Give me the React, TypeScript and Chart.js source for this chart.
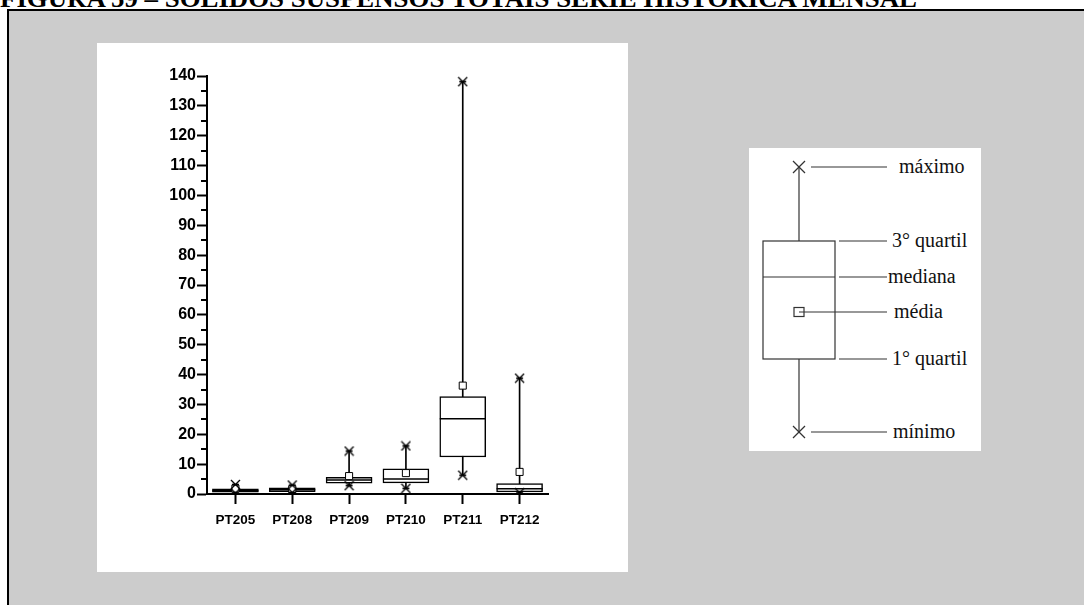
import React, { useEffect, useRef } from 'react';
import { Chart, registerables } from 'chart.js';

Chart.register(...registerables);

const titleText = 'FIGURA 59 – SÓLIDOS SUSPENSOS TOTAIS SÉRIE HISTÓRICA MENSAL';

const categories = ['PT205', 'PT208', 'PT209', 'PT210', 'PT211', 'PT212'];
const minimo = [0.3, 0.5, 2.8, 1.9, 6.3, 0.4];
const quartil1 = [0.6, 0.8, 3.6, 3.7, 12.4, 0.7];
const mediana = [1.1, 1.4, 4.7, 5.0, 25.2, 1.8];
const quartil3 = [1.7, 2.1, 5.6, 8.4, 32.6, 3.5];
const maximo = [3.2, 3.0, 14.4, 16.1, 138.1, 38.8];
const media = [1.8, 1.6, 6.0, 7.0, 36.3, 7.4];

const yMin = 0;
const yMax = 140;
const yStep = 10;
const minorTickValues = [5, 15, 25, 35, 45, 55, 65, 75, 85, 95, 105, 115, 125, 135];

const legendLabels = ['máximo', '3° quartil', 'mediana', 'média', '1° quartil', 'mínimo'];

function makeStar(): HTMLCanvasElement {
  const c = document.createElement('canvas');
  c.width = 11;
  c.height = 11;
  const g = c.getContext('2d')!;
  g.strokeStyle = '#000';
  g.lineWidth = 1.3;
  g.beginPath();
  g.moveTo(1, 1);
  g.lineTo(10, 10);
  g.moveTo(10, 1);
  g.lineTo(1, 10);
  g.moveTo(2, 5.5);
  g.lineTo(9, 5.5);
  g.stroke();
  return c;
}

const minorTicksPlugin = {
  id: 'minorTicks',
  afterDraw(chart: any) {
    const y = chart.scales.y;
    const ctx = chart.ctx;
    ctx.save();
    ctx.strokeStyle = '#000';
    ctx.lineWidth = 2;
    for (const v of minorTickValues) {
      const p = Math.round(y.getPixelForValue(v));
      ctx.beginPath();
      ctx.moveTo(y.right - 6, p);
      ctx.lineTo(y.right, p);
      ctx.stroke();
    }
    ctx.restore();
  },
};

function BoxChart() {
  const ref = useRef<HTMLCanvasElement | null>(null);
  useEffect(() => {
    if (!ref.current) return;
    const star = makeStar();
    const whiskers = categories.map((_, i) => [minimo[i], maximo[i]]);
    const boxes = categories.map((_, i) => [quartil1[i], quartil3[i]]);
    const tickFont = { family: 'Arial, "Liberation Sans", sans-serif', weight: 'bold' as const };
    const chart = new Chart(ref.current, {
      type: 'bar',
      data: {
        labels: categories,
        datasets: [
          {
            type: 'bar',
            data: whiskers as any,
            backgroundColor: '#000',
            borderWidth: 0,
            barThickness: 1,
            grouped: false,
            order: 5,
          } as any,
          {
            type: 'bar',
            data: boxes as any,
            backgroundColor: '#fff',
            borderColor: '#000',
            borderWidth: 1.5,
            borderSkipped: false,
            barThickness: 46,
            grouped: false,
            order: 4,
          } as any,
          {
            type: 'line',
            data: mediana,
            showLine: false,
            pointStyle: 'line',
            pointRadius: 23,
            pointBorderColor: '#000',
            pointBorderWidth: 1.5,
            order: 3,
          } as any,
          {
            type: 'line',
            data: media,
            showLine: false,
            pointStyle: 'rect',
            pointRadius: 5,
            pointBackgroundColor: '#fff',
            pointBorderColor: '#000',
            pointBorderWidth: 1,
            order: 2,
          } as any,
          {
            type: 'line',
            data: maximo,
            showLine: false,
            pointStyle: star,
            pointRadius: 5,
            order: 1,
          } as any,
          {
            type: 'line',
            data: minimo,
            showLine: false,
            pointStyle: star,
            pointRadius: 5,
            order: 1,
          } as any,
        ],
      },
      options: {
        animation: false,
        responsive: false,
        events: [],
        layout: { padding: { left: 0, top: 33, right: 80, bottom: 38 } },
        plugins: { legend: { display: false }, tooltip: { enabled: false }, title: { display: false } },
        scales: {
          x: {
            type: 'category',
            offset: true,
            afterFit: (s: any) => { s.height = 40; },
            grid: { display: true, offset: false, drawOnChartArea: false, drawTicks: true, tickLength: 10, tickWidth: 2, tickColor: '#000' },
            border: { display: true, color: '#000', width: 2 },
            ticks: { color: '#000', padding: 8, font: { ...tickFont, size: 13.5 }, maxRotation: 0 },
          },
          y: {
            type: 'linear',
            min: yMin,
            max: yMax,
            afterFit: (s: any) => { s.width = 110; },
            grid: { display: true, drawOnChartArea: false, drawTicks: true, tickLength: 10, tickWidth: 2, tickColor: '#000' },
            border: { display: true, color: '#000', width: 2 },
            ticks: { stepSize: yStep, color: '#000', padding: 1, font: { ...tickFont, size: 16 } },
          },
        },
      } as any,
      plugins: [minorTicksPlugin],
    });
    return () => chart.destroy();
  }, []);
  return <canvas ref={ref} width={531} height={529} style={{ display: 'block' }} />;
}

function Legend() {
  const stroke = '#333';
  const font = '"Liberation Serif", "Times New Roman", serif';
  const cx = 50;
  const yMaxL = 19;
  const yQ3 = 93;
  const yMed = 129;
  const yMean = 164;
  const yQ1 = 211;
  const yMinL = 284;
  const X = (y: number) => (
    <g>
      <line x1={cx - 6} y1={y - 6} x2={cx + 6} y2={y + 6} stroke={stroke} strokeWidth={1.2} />
      <line x1={cx + 6} y1={y - 6} x2={cx - 6} y2={y + 6} stroke={stroke} strokeWidth={1.2} />
    </g>
  );
  const t = (x: number, y: number, s: string) => (
    <text x={x} y={y + 6} fontFamily={font} fontSize={20} fill="#111">{s}</text>
  );
  return (
    <svg width={232} height={303} style={{ position: 'absolute', left: 749, top: 148, background: '#fff' }}>
      <line x1={cx} y1={yMaxL} x2={cx} y2={yMinL} stroke={stroke} strokeWidth={1.2} />
      <rect x={14} y={yQ3} width={72} height={yQ1 - yQ3} fill="#fff" stroke={stroke} strokeWidth={1.2} />
      <line x1={14} y1={yMed} x2={86} y2={yMed} stroke={stroke} strokeWidth={1.2} />
      <rect x={cx - 5} y={yMean - 4.5} width={10} height={9} fill="#fff" stroke={stroke} strokeWidth={1.2} />
      {X(yMaxL)}
      {X(yMinL)}
      <line x1={62} y1={yMaxL} x2={138} y2={yMaxL} stroke={stroke} strokeWidth={1.2} />
      <line x1={90} y1={yQ3} x2={138} y2={yQ3} stroke={stroke} strokeWidth={1.2} />
      <line x1={90} y1={yMed} x2={138} y2={yMed} stroke={stroke} strokeWidth={1.2} />
      <line x1={cx} y1={yMean} x2={138} y2={yMean} stroke={stroke} strokeWidth={1.2} />
      <line x1={90} y1={yQ1} x2={138} y2={yQ1} stroke={stroke} strokeWidth={1.2} />
      <line x1={62} y1={yMinL} x2={138} y2={yMinL} stroke={stroke} strokeWidth={1.2} />
      {t(150, yMaxL, legendLabels[0])}
      {t(143, yQ3, legendLabels[1])}
      {t(139, yMed, legendLabels[2])}
      {t(145, yMean, legendLabels[3])}
      {t(143, yQ1, legendLabels[4])}
      {t(144, yMinL, legendLabels[5])}
    </svg>
  );
}

export default function App() {
  return (
    <div style={{ position: 'absolute', left: 0, top: 0, width: 1084, height: 605, overflow: 'hidden', background: '#fff' }}>
      <svg width={1084} height={20} style={{ position: 'absolute', left: 0, top: 0 }}>
        <text x={0} y={7} fontFamily='"Liberation Serif", "Times New Roman", serif' fontWeight="bold" fontSize={26} fill="#000" textLength={917} lengthAdjust="spacingAndGlyphs">{titleText}</text>
      </svg>
      <div style={{ position: 'absolute', left: 7, top: 9, width: 1100, height: 620, background: '#cccccc', borderTop: '2px solid #000', borderLeft: '2px solid #000' }} />
      <div style={{ position: 'absolute', left: 97, top: 43, width: 531, height: 529, background: '#fff' }}>
        <BoxChart />
      </div>
      <Legend />
    </div>
  );
}
